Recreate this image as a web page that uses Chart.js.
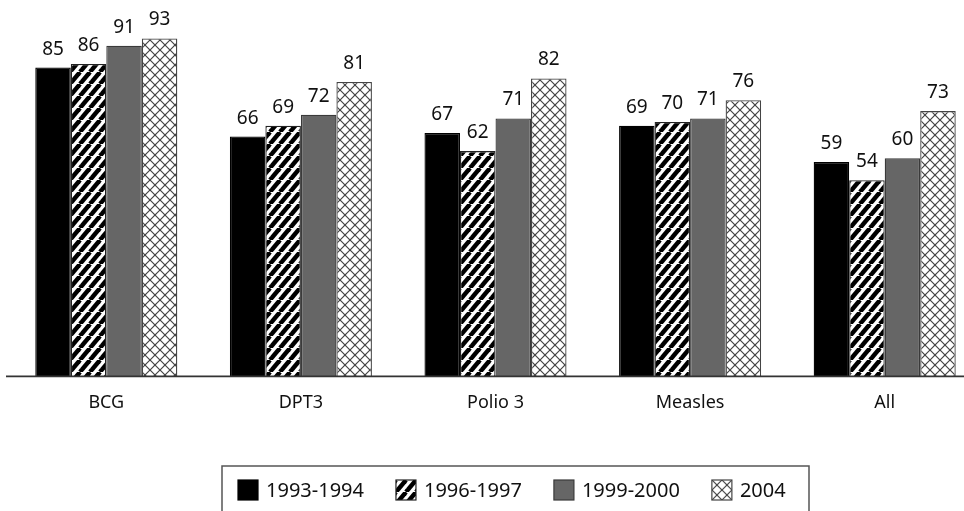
<!DOCTYPE html>
<html>
<head>
<meta charset="utf-8">
<script src="https://cdn.jsdelivr.net/npm/chart.js@4/dist/chart.umd.min.js"></script>
<style>
  html, body { margin: 0; padding: 0; background: #fff; }
  #wrap { width: 964px; height: 511px; overflow: hidden; position: relative; }
  #c { display: block; }
</style>
</head>
<body>
<div id="wrap"><canvas id="c" width="1000" height="530"></canvas></div>
<script>
// Immunisation coverage (%) by vaccine and survey round
const categories = ['BCG', 'DPT3', 'Polio 3', 'Measles', 'All'];
const seriesLabels = ['1993-1994', '1996-1997', '1999-2000', '2004'];
const values1993 = [85, 66, 67, 69, 59];
const values1996 = [86, 69, 62, 70, 54];
const values1999 = [91, 72, 71, 71, 60];
const values2004 = [93, 81, 82, 76, 73];

const FONT = "'Noto Sans', 'Open Sans', sans-serif";

// Diagonal black/white stripes
function stripePattern() {
  const w = 10, h = 12;
  const t = document.createElement('canvas');
  t.width = w; t.height = h;
  const g = t.getContext('2d');
  g.fillStyle = '#fff';
  g.fillRect(0, 0, w, h);
  g.strokeStyle = '#000';
  g.lineWidth = 4.4;
  for (let k = -1; k <= 1; k++) {
    g.beginPath();
    g.moveTo(k * w, h);
    g.lineTo((k + 1) * w, 0);
    g.stroke();
  }
  return g.createPattern(t, 'repeat');
}

// Diamond cross-hatch on white
function crossPattern() {
  const s = 10;
  const t = document.createElement('canvas');
  t.width = s; t.height = s;
  const g = t.getContext('2d');
  g.fillStyle = '#fff';
  g.fillRect(0, 0, s, s);
  g.strokeStyle = '#444';
  g.lineWidth = 1.2;
  for (let k = -1; k <= 1; k++) {
    g.beginPath(); g.moveTo(k * s, s); g.lineTo((k + 1) * s, 0); g.stroke();
    g.beginPath(); g.moveTo(k * s, 0); g.lineTo((k + 1) * s, s); g.stroke();
  }
  return g.createPattern(t, 'repeat');
}

const ctx = document.getElementById('c').getContext('2d');
const fills = ['#000000', stripePattern(), '#666666', crossPattern()];
const borders = ['#000000', '#222222', '#3a3a3a', '#444444'];
const seriesValues = [values1993, values1996, values1999, values2004];

const datasets = seriesValues.map((vals, i) => ({
  label: seriesLabels[i],
  data: vals,
  backgroundColor: fills[i],
  borderColor: borders[i],
  borderWidth: 1.3,
  categoryPercentage: 0.73,
  barPercentage: 1.0
}));

// Value labels above each bar
const valueLabels = {
  id: 'valueLabels',
  afterDatasetsDraw(chart) {
    const c = chart.ctx;
    c.save();
    c.font = '19px ' + FONT;
    c.fillStyle = '#111';
    c.textAlign = 'center';
    c.textBaseline = 'alphabetic';
    chart.data.datasets.forEach((ds, i) => {
      chart.getDatasetMeta(i).data.forEach((bar, j) => {
        c.fillText(String(ds.data[j]), bar.x, bar.y - 13);
      });
    });
    c.restore();
  }
};

// Category baseline running across the plot
const baseline = {
  id: 'baseline',
  afterDatasetsDraw(chart) {
    const c = chart.ctx;
    const y = chart.scales.y.getPixelForValue(0);
    c.save();
    c.strokeStyle = '#333';
    c.lineWidth = 1.6;
    c.beginPath();
    c.moveTo(6, y);
    c.lineTo(chart.width, y);
    c.stroke();
    c.restore();
  }
};

// Boxed legend under the axis
const boxedLegend = {
  id: 'boxedLegend',
  afterDraw(chart, args, opts) {
    const c = chart.ctx;
    c.save();
    c.strokeStyle = '#555';
    c.lineWidth = 1.5;
    c.strokeRect(opts.left, opts.top, opts.right - opts.left, 120);
    c.font = '20px ' + FONT;
    c.textBaseline = 'middle';
    c.textAlign = 'left';
    let x = opts.startX;
    const sw = 20;
    const cy = opts.top + 24;
    chart.data.datasets.forEach((ds) => {
      c.save();
      c.translate(x, cy - sw / 2);
      c.fillStyle = ds.backgroundColor;
      c.fillRect(0, 0, sw, sw);
      c.strokeStyle = ds.borderColor;
      c.lineWidth = 1.2;
      c.strokeRect(0, 0, sw, sw);
      c.restore();
      c.fillStyle = '#111';
      c.fillText(ds.label, x + sw + 8, cy + 1);
      x += sw + 8 + c.measureText(ds.label).width + opts.gap;
    });
    c.restore();
  }
};

new Chart(ctx, {
  type: 'bar',
  data: { labels: categories, datasets },
  plugins: [valueLabels, baseline, boxedLegend],
  options: {
    responsive: false,
    animation: false,
    layout: { padding: { left: 9, right: 18, top: 13, bottom: 100 } },
    plugins: {
      legend: { display: false },
      tooltip: { enabled: false },
      boxedLegend: { left: 222, right: 809, top: 466, startX: 238, gap: 32 }
    },
    scales: {
      x: {
        grid: { display: false, drawTicks: false },
        border: { display: false },
        ticks: { color: '#111', font: { family: FONT, size: 18 }, padding: 16 }
      },
      y: {
        display: false,
        min: 0,
        max: 100
      }
    }
  }
});
</script>
</body>
</html>
